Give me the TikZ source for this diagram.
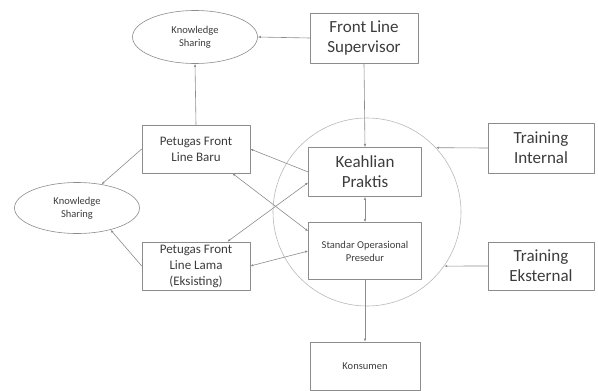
\documentclass[tikz,border=0pt]{standalone}
\usepackage{fontspec}
\setmainfont{Carlito}
\usetikzlibrary{shapes.geometric,arrows.meta}
\definecolor{garis}{RGB}{140,140,140}
\definecolor{teks}{RGB}{60,60,60}
\begin{document}
\begin{tikzpicture}[x=1pt,y=-1pt,line cap=round,line join=round,
	kotak/.style={draw=garis,line width=.6pt,text=teks,align=center,inner sep=1pt},
	elips/.style={draw=garis,line width=.6pt,ellipse,text=teks,align=center,inner sep=0pt},
	besar/.style={font=\fontsize{17}{20}\selectfont},
	sedang/.style={font=\fontsize{13}{16}\selectfont},
	kecil/.style={font=\fontsize{10.5}{13}\selectfont},
	panah/.style={draw=garis,line width=.6pt,-{Latex[length=3pt,width=2.4pt]}},
	duapanah/.style={draw=garis,line width=.6pt,{Latex[length=3pt,width=2.4pt]}-{Latex[length=3pt,width=2.4pt]}}]
	\useasboundingbox (0,0) rectangle (598,391);
	\node[draw={rgb,255:red,185;green,185;blue,185},line width=.6pt,circle,minimum size=188pt,inner sep=0pt] (lingk) at (367,212) {};
	\node[kotak,besar,minimum width=108pt,minimum height=50pt] (sup) at (364,38) {Front Line\\Supervisor};
	\node[elips,kecil,minimum width=125pt,minimum height=53pt] (ks1) at (195,37) {Knowledge\\Sharing};
	\node[kotak,sedang,minimum width=108pt,minimum height=48pt] (baru) at (196,149) {Petugas Front\\Line Baru};
	\node[elips,kecil,minimum width=125pt,minimum height=51pt] (ks2) at (77,208) {Knowledge\\Sharing};
	\node[kotak,sedang,minimum width=108pt,minimum height=48pt] (lama) at (196,266) {Petugas Front\\Line Lama\\(Eksisting)};
	\node[kotak,besar,minimum width=113pt,minimum height=49pt] (keah) at (365,172) {Keahlian\\Praktis};
	\node[kotak,kecil,minimum width=113pt,minimum height=57pt] (sop) at (365,251) {Standar Operasional\\Presedur};
	\node[kotak,besar,minimum width=106pt,minimum height=50pt] (tin) at (541,148) {Training\\Internal};
	\node[kotak,besar,minimum width=106pt,minimum height=48pt] (tek) at (541,266) {Training\\Eksternal};
	\node[kotak,kecil,minimum width=110pt,minimum height=48pt] (kons) at (365,366) {Konsumen};
	\draw[panah] (sup.west)--(ks1.east);
	\draw[panah] (baru.north)--(ks1.south);
	\draw[panah] (sup.south)--(keah.north);
	\draw[duapanah] (keah.south)--(sop.north);
	\draw[panah] (sop.south)--(kons.north);
	\draw[panah] (baru.west)--(ks2.44);
	\draw[panah] (lama.west)--(ks2.-33);
	\draw[panah] (keah.west)--(baru.east);
	\draw[duapanah] ([xshift=-18pt]baru.south east)--([yshift=-9pt]sop.north west);
	\draw[duapanah] ([xshift=-23pt]lama.north east)--([yshift=-10.5pt]keah.west);
	\draw[duapanah] (lama.east)--(sop.west);
	\draw[panah] (tin.west)--(lingk.43);
	\draw[panah] (tek.west)--(lingk.-35);
\end{tikzpicture}
\end{document}
